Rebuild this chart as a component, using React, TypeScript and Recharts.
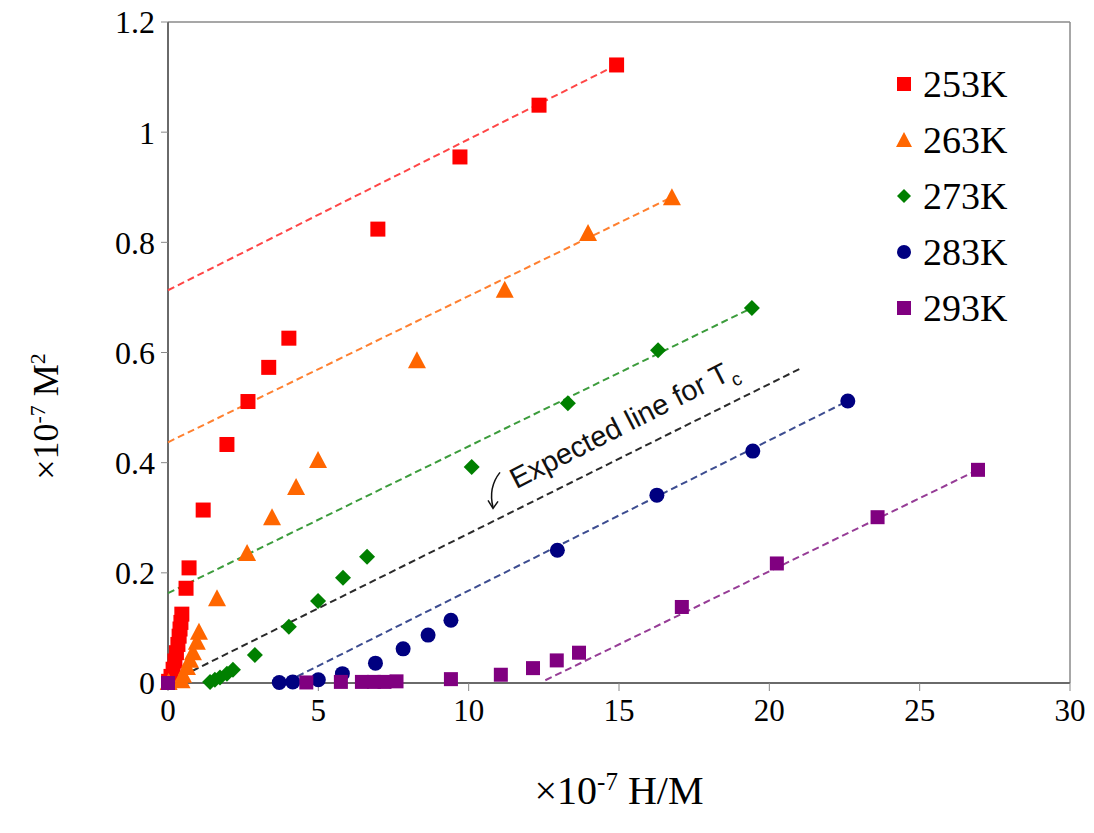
import {
  Label,
  Legend,
  ReferenceDot,
  ReferenceLine,
  Scatter,
  ScatterChart,
  XAxis,
  YAxis,
} from "recharts";

type Pt = [number, number];
type Kind = "square" | "triangle" | "diamond" | "circle";

const serif = "'Liberation Serif', 'Times New Roman', serif";
const sans = "'Liberation Sans', Arial, sans-serif";

const xTicks = [0, 5, 10, 15, 20, 25, 30];
const yTicks = [0, 0.2, 0.4, 0.6, 0.8, 1, 1.2];

// measured points, x = 1e-7 H/M, y = 1e-7 M^2
const k253: Pt[] = [
  [0.02, 0.003], [0.1, 0.012], [0.17, 0.025], [0.23, 0.04], [0.28, 0.055],
  [0.33, 0.07], [0.37, 0.085], [0.4, 0.098], [0.43, 0.11], [0.46, 0.125],
  [0.6, 0.172], [0.7, 0.209], [1.17, 0.314], [1.96, 0.433], [2.66, 0.511],
  [3.35, 0.573], [4.02, 0.626], [6.98, 0.824], [9.71, 0.955], [12.34, 1.049],
  [14.92, 1.122],
];
const k263: Pt[] = [
  [0.02, 0.002], [0.45, 0.005], [0.5, 0.015], [0.63, 0.029], [0.73, 0.042],
  [0.83, 0.056], [0.96, 0.075], [1.03, 0.093], [1.63, 0.154], [2.63, 0.236],
  [3.46, 0.301], [4.26, 0.356], [4.99, 0.405], [8.28, 0.586], [11.2, 0.714],
  [13.97, 0.817], [16.76, 0.882],
];
const k273: Pt[] = [
  [1.4, 0.002], [1.56, 0.006], [1.73, 0.01], [1.96, 0.017], [2.16, 0.024],
  [2.89, 0.051], [4.02, 0.102], [4.99, 0.149], [5.82, 0.191], [6.62, 0.229],
  [10.1, 0.392], [13.3, 0.508], [16.3, 0.604], [19.42, 0.681],
];
const k283: Pt[] = [
  [3.7, 0.001], [4.15, 0.002], [5.0, 0.006], [5.8, 0.017], [6.9, 0.036],
  [7.82, 0.062], [8.65, 0.087], [9.41, 0.114], [12.95, 0.241], [16.26, 0.341],
  [19.45, 0.421], [22.61, 0.512],
];
const k293: Pt[] = [
  [0, 0], [4.6, 0.001], [5.75, 0.002], [6.45, 0.002], [6.85, 0.002],
  [7.2, 0.002], [7.6, 0.003], [9.41, 0.007], [11.07, 0.015], [12.14, 0.027],
  [12.93, 0.041], [13.67, 0.055], [17.09, 0.138], [20.25, 0.217], [23.6, 0.301],
  [26.94, 0.387],
];

// dashed linear fits (end points)
const fit253: Pt[] = [[0, 0.713], [14.92, 1.122]];
const fit263: Pt[] = [[0, 0.437], [16.76, 0.882]];
const fit273: Pt[] = [[0, 0.163], [19.42, 0.681]];
const fit283: Pt[] = [[4.3, 0.012], [22.61, 0.512]];
const fit293: Pt[] = [[12.55, 0.005], [26.94, 0.387]];
const tcLine: Pt[] = [[0.15, 0.004], [21, 0.57]];
const tcNote: Pt = [15.3, 0.455];

const names = ["253K", "263K", "273K", "283K", "293K"];
const kinds: Kind[] = ["square", "triangle", "diamond", "circle", "square"];
const colors = ["#ff0000", "#ff6600", "#008000", "#000080", "#800080"];
const lineColors = ["#ff4646", "#ff8030", "#3c9c3c", "#3c4c90", "#963c96"];

const toRows = (pts: Pt[]) => pts.map(([x, y]) => ({ x, y }));

function Marker({ kind, color, cx, cy, size }: { kind: Kind; color: string; cx: number; cy: number; size: number }) {
  const h = size / 2;
  if (kind === "square") {
    return <rect x={cx - h} y={cy - h} width={size} height={size} fill={color} />;
  }
  if (kind === "triangle") {
    return (
      <polygon
        points={`${cx},${cy - h - 1} ${cx + h + 1},${cy + h} ${cx - h - 1},${cy + h}`}
        fill={color}
      />
    );
  }
  if (kind === "diamond") {
    return (
      <polygon
        points={`${cx},${cy - h} ${cx + h},${cy} ${cx},${cy + h} ${cx - h},${cy}`}
        fill={color}
      />
    );
  }
  return <circle cx={cx} cy={cy} r={h} fill={color} />;
}

function shapeFor(i: number, size: number) {
  return (props: any) => (
    <Marker kind={kinds[i]} color={colors[i]} cx={props.cx} cy={props.cy} size={size} />
  );
}

const noShape = () => <g />;

function LegendBox() {
  return (
    <div style={{ fontFamily: serif, fontSize: 38, color: "#000" }}>
      {names.map((name, i) => (
        <div key={name} style={{ display: "flex", alignItems: "center", height: 56 }}>
          <svg width={18} height={18} style={{ marginRight: 10 }}>
            <Marker kind={kinds[i]} color={colors[i]} cx={9} cy={9} size={14} />
          </svg>
          <span style={{ lineHeight: "56px" }}>{name}</span>
        </div>
      ))}
    </div>
  );
}

function XTitle(props: any) {
  const { x, y, width } = props.viewBox;
  return (
    <text x={x + width / 2} y={y + 121} textAnchor="middle" fontFamily={serif} fontSize={40} fill="#000">
      ×10<tspan dy={-14} fontSize={25}>-7</tspan>
      <tspan dy={14}> H/M</tspan>
    </text>
  );
}

function YTitle(props: any) {
  const { x, y, height } = props.viewBox;
  const cx = x - 30;
  const cy = y + height / 2 + 64;
  return (
    <text
      transform={`translate(${cx},${cy}) rotate(-90)`}
      textAnchor="middle"
      fontFamily={serif}
      fontSize={36}
      fill="#000"
    >
      ×10<tspan dy={-13} fontSize={22}>-7</tspan>
      <tspan dy={13}> M</tspan>
      <tspan dy={-13} fontSize={22}>2</tspan>
    </text>
  );
}

function TcNote(props: any) {
  const { x, y, width = 0, height = 0 } = props.viewBox;
  const cx = x + width / 2;
  const cy = y + height / 2;
  return (
    <g>
      <text
        transform={`translate(${cx},${cy}) rotate(-27)`}
        textAnchor="middle"
        fontFamily={sans}
        fontSize={29}
        fill="#111"
      >
        Expected line for T<tspan dy={8} fontSize={19}>c</tspan>
      </text>
      <path
        d={`M${cx - 128},${cy + 40} Q${cx - 140},${cy + 55} ${cx - 135},${cy + 75}`}
        stroke="#111"
        strokeWidth={1.5}
        fill="none"
      />
      <path
        d={`M${cx - 140},${cy + 68} L${cx - 135},${cy + 76} L${cx - 130},${cy + 69}`}
        stroke="#111"
        strokeWidth={1.5}
        fill="none"
      />
    </g>
  );
}

const dash = { strokeWidth: 2, strokeDasharray: "7 4" };
const fits = [fit253, fit263, fit273, fit283, fit293];
const series = [k253, k263, k273, k283, k293];
const sizes = [15, 16, 16, 15, 14];

export default function App() {
  return (
    <div style={{ position: "absolute", left: 0, top: 0, width: 1094, height: 833, background: "#fff" }}>
      <ScatterChart width={1094} height={833} margin={{ top: 22, right: 24, bottom: 90, left: 88 }}>
        <XAxis
          type="number"
          dataKey="x"
          domain={[0, 30]}
          ticks={xTicks}
          height={60}
          axisLine={{ stroke: "#6a6a6a", strokeWidth: 2 }}
          tickLine={{ stroke: "#888" }}
          tickSize={8}
          tickMargin={8}
          tick={{ fill: "#000", fontSize: 31, fontFamily: serif }}
        >
          <Label content={XTitle} />
        </XAxis>
        <YAxis
          type="number"
          dataKey="y"
          domain={[0, 1.2]}
          ticks={yTicks}
          width={80}
          axisLine={{ stroke: "#6a6a6a", strokeWidth: 2 }}
          tickLine={{ stroke: "#888" }}
          tickSize={7}
          tickMargin={6}
          tick={{ fill: "#000", fontSize: 32, fontFamily: serif }}
        >
          <Label content={YTitle} />
        </YAxis>
        <ReferenceLine y={1.2} stroke="#8a8a8a" strokeWidth={1.5} />
        <ReferenceLine x={30} stroke="#8a8a8a" strokeWidth={1.5} />

        {fits.map((f, i) => (
          <Scatter
            key={`fit${i}`}
            data={toRows(f)}
            line={{ stroke: lineColors[i], ...dash }}
            shape={noShape}
            isAnimationActive={false}
          />
        ))}
        <Scatter
          data={toRows(tcLine)}
          line={{ stroke: "#2a2a2a", ...dash }}
          shape={noShape}
          isAnimationActive={false}
        />

        {series.map((s, i) => (
          <Scatter
            key={names[i]}
            name={names[i]}
            data={toRows(s)}
            shape={shapeFor(i, sizes[i])}
            isAnimationActive={false}
          />
        ))}

        <ReferenceDot x={tcNote[0]} y={tcNote[1]} r={0} fill="none" stroke="none" label={TcNote} />

        <Legend
          layout="vertical"
          align="center"
          verticalAlign="middle"
          content={LegendBox}
          wrapperStyle={{ left: 895, top: 56, width: 180 }}
        />
      </ScatterChart>
    </div>
  );
}
